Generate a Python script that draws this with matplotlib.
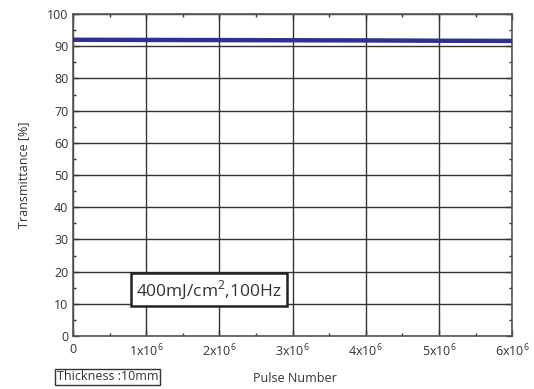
import matplotlib
matplotlib.use("Agg")
import matplotlib.pyplot as plt
from matplotlib.ticker import MultipleLocator, FixedLocator

plt.rcParams['font.family'] = ['Open Sans', 'DejaVu Sans']
plt.rcParams['mathtext.fontset'] = 'custom'
plt.rcParams['mathtext.rm'] = 'Open Sans'

# measured transmittance vs pulse count
pulses = [0, 1e6, 2e6, 3e6, 4e6, 5e6, 6e6]
transmittance = [92.0, 91.95, 91.9, 91.85, 91.8, 91.7, 91.65]

xticks = [0, 1e6, 2e6, 3e6, 4e6, 5e6, 6e6]
xlabels = ['0', '1x10$^{6}$', '2x10$^{6}$', '3x10$^{6}$', '4x10$^{6}$', '5x10$^{6}$', '6x10$^{6}$']
yticks = list(range(0, 101, 10))

fig = plt.figure(figsize=(5.34, 3.89), dpi=100)
ax = fig.add_axes([0.137, 0.136, 0.822, 0.828])

ax.plot(pulses, transmittance, color='#2e3192', lw=3.2, zorder=3)

ax.set_xlim(0, 6e6)
ax.set_ylim(0, 100)
ax.xaxis.set_major_locator(FixedLocator(xticks))
ax.set_xticklabels(xlabels)
ax.set_yticks(yticks)
ax.xaxis.set_minor_locator(MultipleLocator(0.5e6))
ax.yaxis.set_minor_locator(MultipleLocator(5))
ax.tick_params(which='both', direction='in', top=True, right=True,
               labelsize=9, colors='#333333', labelcolor='#333333')
ax.tick_params(which='major', length=4, width=1)
ax.tick_params(which='minor', length=2.5, width=1)
ax.tick_params(axis='x', pad=5)
ax.grid(True, which='major', color='#333333', lw=1)
for s in ax.spines.values():
    s.set_color('#555555')
    s.set_linewidth(1.2)

ax.set_ylabel('Transmittance [%]', fontsize=9, color='#333333', labelpad=12)
fig.text(0.552, 0.028, 'Pulse Number', fontsize=9, color='#333333',
         ha='center', va='center')

ax.text(0.143, 0.144, '400mJ/cm$^{2}$,100Hz', transform=ax.transAxes, fontsize=12.5,
        color='#333333', va='center', zorder=5,
        bbox=dict(boxstyle='square,pad=0.3', fc='white', ec='#222222', lw=1.8))
fig.text(0.106, 0.031, 'Thickness :10mm', fontsize=9, color='#333333', va='center',
         bbox=dict(boxstyle='square,pad=0.12', fc='white', ec='#333333', lw=1))

fig.savefig('out.png', dpi=100)
